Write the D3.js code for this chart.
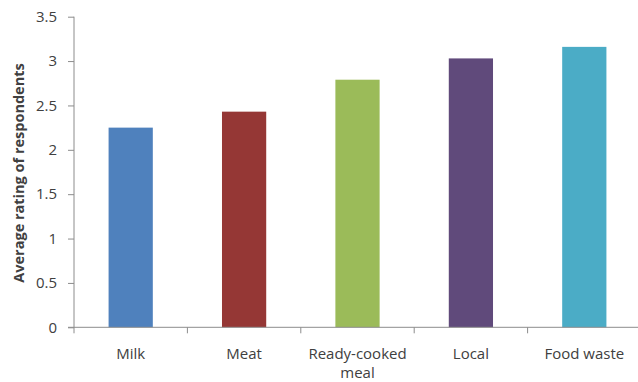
<!DOCTYPE html>
<html>
<head>
<meta charset="utf-8">
<script src="https://cdn.jsdelivr.net/npm/d3@7"></script>
<style>
  html, body { margin: 0; padding: 0; background: #fff; }
  svg { display: block; }
  text { font-family: "Open Sans", "Liberation Sans", sans-serif; fill: #404040; }
</style>
</head>
<body>
<svg id="chart" width="638" height="382"></svg>
<script>
// Survey topics and their average ratings
const categories = ["Milk", "Meat", "Ready-cooked meal", "Local", "Food waste"];
const categoryLines = [["Milk"], ["Meat"], ["Ready-cooked", "meal"], ["Local"], ["Food waste"]];
const ratings = [2.25, 2.43, 2.79, 3.03, 3.16];
const barColors = ["#4f81bd", "#953735", "#9bbb59", "#604a7b", "#4bacc6"];
const yTicks = [0, 0.5, 1, 1.5, 2, 2.5, 3, 3.5];
const yTickLabels = ["0", "0.5", "1", "1.5", "2", "2.5", "3", "3.5"];
const yTitle = "Average rating of respondents";

const svg = d3.select("#chart");
const plotLeft = 74, plotRight = 641, plotTop = 16.7, plotBottom = 327.3;
const axisColor = "#8c8c8c";

const x = d3.scaleBand()
  .domain(categories)
  .range([plotLeft, plotRight])
  .paddingInner(0.61)
  .paddingOuter(0.305);

const y = d3.scaleLinear().domain([0, 3.5]).range([plotBottom, plotTop]);

// Bars
svg.append("g").selectAll("rect")
  .data(categories)
  .join("rect")
  .attr("x", d => x(d))
  .attr("width", x.bandwidth())
  .attr("y", (d, i) => y(ratings[i]))
  .attr("height", (d, i) => y(0) - y(ratings[i]))
  .attr("fill", (d, i) => barColors[i]);

// Y axis
const yAxis = svg.append("g").attr("transform", `translate(${plotLeft},0)`)
  .call(d3.axisLeft(y).tickValues(yTicks).tickFormat((d, i) => yTickLabels[i]).tickSize(6).tickPadding(11));
yAxis.select(".domain").attr("stroke", axisColor).attr("d", `M0,${plotTop}V${plotBottom}`);
yAxis.selectAll(".tick line").attr("stroke", axisColor);
yAxis.selectAll(".tick text").style("font-size", "15px").attr("fill", "#404040");

// X axis line with ticks between categories
const step = x.step();
const boundaries = d3.range(categories.length + 1).map(i => plotLeft + i * step);
svg.append("line")
  .attr("x1", plotLeft - 6).attr("x2", 638)
  .attr("y1", plotBottom).attr("y2", plotBottom)
  .attr("stroke", axisColor);
svg.append("g").selectAll("line")
  .data(boundaries)
  .join("line")
  .attr("x1", d => d).attr("x2", d => d)
  .attr("y1", plotBottom).attr("y2", plotBottom + 6)
  .attr("stroke", axisColor);

// Category labels, the long one split over two lines
const labelG = svg.append("g");
categories.forEach((c, ci) => {
  const cx = x(c) + x.bandwidth() / 2;
  categoryLines[ci].forEach((ln, i) => {
    labelG.append("text")
      .attr("x", cx).attr("y", 359 + i * 19)
      .attr("text-anchor", "middle")
      .style("font-size", "15px")
      .text(ln);
  });
});

// Y axis title
svg.append("text")
  .attr("transform", `translate(24,${(plotTop + plotBottom) / 2 + 1}) rotate(-90)`)
  .attr("text-anchor", "middle")
  .style("font-size", "14.5px")
  .style("font-weight", "bold")
  .attr("fill", "#262626")
  .text(yTitle);
</script>
</body>
</html>
